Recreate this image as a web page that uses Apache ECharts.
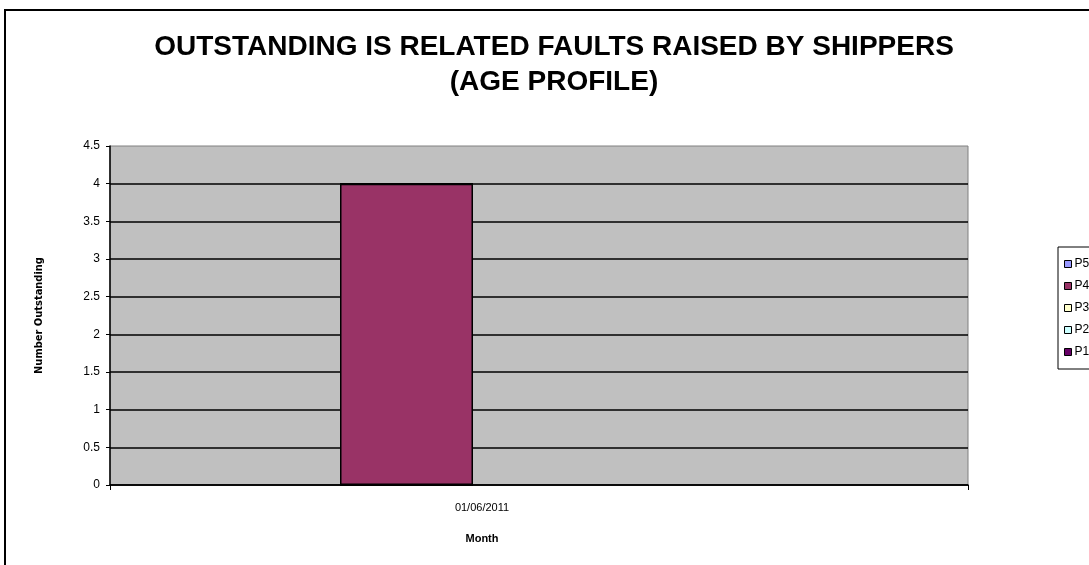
<!DOCTYPE html>
<html>
<head>
<meta charset="utf-8">
<script src="https://cdn.jsdelivr.net/npm/echarts@6/dist/echarts.min.js"></script>
<style>
  html, body { margin: 0; padding: 0; background: #fff; }
  #chart { width: 1089px; height: 565px; }
</style>
</head>
<body>
<div id="chart"></div>
<script>
const months = ["01/06/2011"];
const seriesNames = ["P1", "P2", "P3", "P4", "P5"];
const p1 = [0];
const p2 = [0];
const p3 = [0];
const p4 = [4];
const p5 = [0];
const colors = ["#660066", "#CCFFFF", "#FFFFCC", "#993366", "#9999FF"];

const values = [p1, p2, p3, p4, p5];
const chart = echarts.init(document.getElementById("chart"));

const series = seriesNames.map((name, i) => ({
  name: name,
  type: "bar",
  stack: "age",
  xAxisIndex: 1,
  yAxisIndex: 1,
  barWidth: 133,
  data: values[i],
  itemStyle: { color: colors[i], borderColor: "#000", borderWidth: 1.5 }
}));

const option = {
  animation: false,
  textStyle: { fontFamily: "Liberation Sans" },
  graphic: [
    {
      type: "rect",
      shape: { x: 5, y: 10, width: 1100, height: 600 },
      style: { fill: null, stroke: "#000", lineWidth: 2 },
      z: -1
    }
  ],
  title: {
    text: "OUTSTANDING IS RELATED FAULTS RAISED BY SHIPPERS\n(AGE PROFILE)",
    left: 549,
    textAlign: "center",
    top: 25,
    textStyle: {
      fontFamily: "Liberation Sans",
      fontWeight: "bold",
      fontSize: 28,
      lineHeight: 35,
      color: "#000"
    }
  },
  legend: {
    orient: "vertical",
    left: 1058,
    top: 247,
    data: ["P5", "P4", "P3", "P2", "P1"],
    itemWidth: 7,
    itemHeight: 7,
    itemGap: 8,
    padding: [10, 20, 10, 6],
    borderColor: "#000",
    borderWidth: 1,
    backgroundColor: "#fff",
    icon: "rect",
    itemStyle: { borderColor: "#000", borderWidth: 1 },
    textStyle: { fontSize: 12, lineHeight: 14, color: "#000", padding: [0, 0, 0, -2] }
  },
  grid: [
    { left: 110, right: 121, top: 146, bottom: 80, show: true, backgroundColor: "#C0C0C0", borderColor: "#808080", borderWidth: 1 },
    { left: 110, right: 386, top: 146, bottom: 80 }
  ],
  xAxis: [
    {
      type: "category",
      gridIndex: 0,
      data: months,
      boundaryGap: true,
      axisLine: { lineStyle: { color: "#000", width: 1.5 } },
      axisTick: { show: true, length: 5, lineStyle: { color: "#000" } },
      axisLabel: { color: "#000", fontSize: 11, margin: 17, padding: [0, 114, 0, 0] },
      name: "Month",
      nameLocation: "middle",
      nameGap: 48,
      nameTextStyle: { color: "#000", fontSize: 11, fontWeight: "bold", padding: [0, 114, 0, 0] }
    },
    {
      type: "category",
      gridIndex: 1,
      data: months,
      show: false
    }
  ],
  yAxis: [
    {
      type: "value",
      gridIndex: 0,
      min: 0,
      max: 4.5,
      interval: 0.5,
      axisLine: { show: true, lineStyle: { color: "#000", width: 1.5 } },
      axisTick: { show: true, length: 4, lineStyle: { color: "#000" } },
      axisLabel: { color: "#000", fontSize: 12, margin: 10 },
      splitLine: { show: true, showMaxLine: false, lineStyle: { color: "#000", width: 1.5 } },
      name: "Number Outstanding",
      nameLocation: "middle",
      nameRotate: 90,
      nameGap: 65,
      nameTextStyle: { color: "#000", fontSize: 11, fontWeight: "bold", fontFamily: "DejaVu Sans Condensed" }
    },
    {
      type: "value",
      gridIndex: 1,
      min: 0,
      max: 4.5,
      interval: 0.5,
      show: false
    }
  ],
  series: series
};

chart.setOption(option);
window.addEventListener("resize", chart.resize);
</script>
</body>
</html>
